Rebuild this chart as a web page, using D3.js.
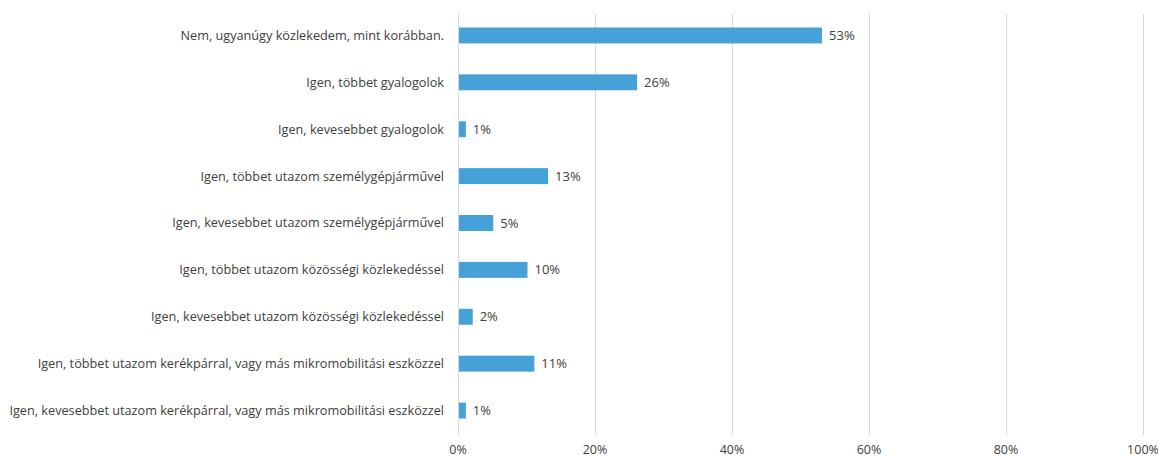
<!DOCTYPE html>
<html><head><meta charset="utf-8">
<script src="https://cdn.jsdelivr.net/npm/d3@7"></script>
<style>body{margin:0;background:#fff}svg{display:block}text{font-family:"Open Sans","Noto Sans",sans-serif;fill:#404040}</style>
</head><body><svg id="c" width="1158" height="458"></svg>
<script>
const categories = [
  "Nem, ugyanúgy közlekedem, mint korábban.",
  "Igen, többet gyalogolok",
  "Igen, kevesebbet gyalogolok",
  "Igen, többet utazom személygépjárművel",
  "Igen, kevesebbet utazom személygépjárművel",
  "Igen, többet utazom közösségi közlekedéssel",
  "Igen, kevesebbet utazom közösségi közlekedéssel",
  "Igen, többet utazom kerékpárral, vagy más mikromobilitási eszközzel",
  "Igen, kevesebbet utazom kerékpárral, vagy más mikromobilitási eszközzel"
];
const values = [53, 26, 1, 13, 5, 10, 2, 11, 1];
const ticks = [0, 20, 40, 60, 80, 100];

const svg = d3.select("#c");
const x = d3.scaleLinear().domain([0, 100]).range([458, 1143]);
const y = d3.scaleBand().domain(categories).range([12, 434]).paddingInner(0.66).paddingOuter(0.33);

svg.append("g").selectAll("line").data(ticks).join("line")
  .attr("x1", d => x(d) + 0.5).attr("x2", d => x(d) + 0.5)
  .attr("y1", 14).attr("y2", 435)
  .attr("stroke", "#d9d9d9").attr("stroke-width", 1);

svg.append("g").selectAll("rect").data(values).join("rect")
  .attr("x", x(0) + 1).attr("y", (d, i) => y(categories[i]))
  .attr("width", d => x(d) - x(0)).attr("height", y.bandwidth())
  .attr("fill", "#46a1d8");

svg.append("g").selectAll("text").data(values).join("text")
  .attr("x", d => x(d) + 8).attr("y", (d, i) => y(categories[i]) + y.bandwidth() / 2)
  .attr("dy", "0.35em").attr("font-size", 13).text(d => d + "%");

svg.append("g").selectAll("text").data(categories).join("text")
  .attr("x", 444).attr("y", d => y(d) + y.bandwidth() / 2)
  .attr("dy", "0.35em").attr("text-anchor", "end").attr("font-size", 12.7).text(d => d);

svg.append("g").selectAll("text").data(ticks).join("text")
  .attr("x", d => x(d)).attr("y", 450).attr("dy", "0.35em")
  .attr("text-anchor", "middle").attr("font-size", 12.5).text(d => d + "%");
</script></body></html>
